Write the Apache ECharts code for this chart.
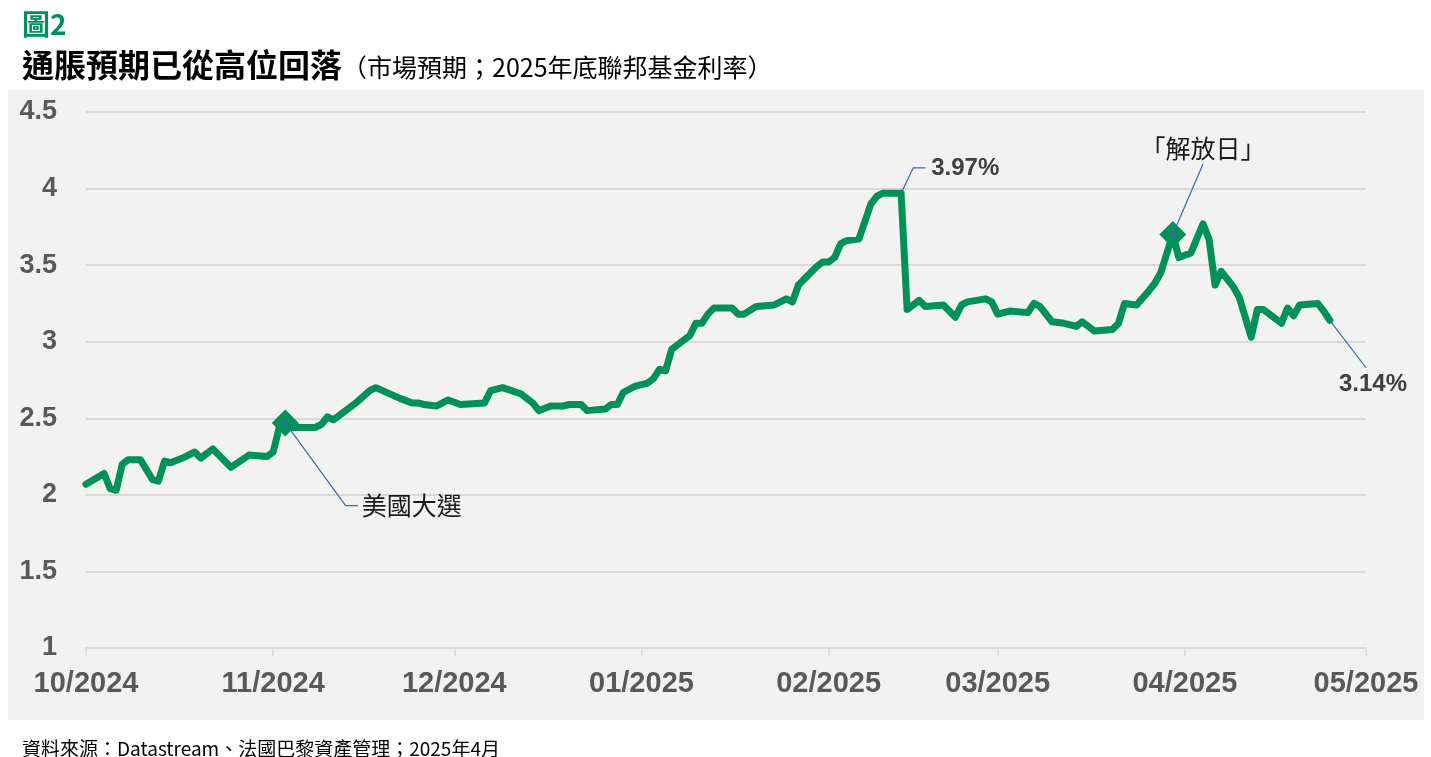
<!DOCTYPE html>
<html lang="zh-Hant">
<head>
<meta charset="utf-8">
<title>圖2</title>
<script src="https://cdn.jsdelivr.net/npm/echarts@6/dist/echarts.min.js"></script>
<style>
    html, body { margin: 0; padding: 0; background: #fff; }
    #wrap { position: relative; width: 1431px; height: 757px; }
    /* grey panel behind the plot */
    #panel { position: absolute; left: 8px; top: 90px; width: 1416px; height: 630px; background: #f2f2f2; }
    #chart { position: absolute; left: 0; top: 0; width: 1431px; height: 757px; }
</style>
</head>
<body>
<div id="wrap">
    <div id="panel"></div>
    <div id="chart"></div>
</div>
<script type="text/javascript">
    // 市場預期：2025年底聯邦基金利率
    var dates = [
        '2024-10-01','2024-10-04','2024-10-05','2024-10-06','2024-10-07','2024-10-08','2024-10-10','2024-10-12','2024-10-13',
        '2024-10-14','2024-10-15','2024-10-17','2024-10-19','2024-10-20','2024-10-22','2024-10-25','2024-10-28','2024-10-31',
        '2024-11-01','2024-11-02','2024-11-03','2024-11-04','2024-11-08','2024-11-09','2024-11-10','2024-11-11','2024-11-15',
        '2024-11-17','2024-11-18','2024-11-22','2024-11-24','2024-11-25','2024-11-26','2024-11-28','2024-11-30',
        '2024-12-02','2024-12-06','2024-12-07','2024-12-09','2024-12-12','2024-12-14','2024-12-15','2024-12-17','2024-12-19',
        '2024-12-20','2024-12-22','2024-12-23','2024-12-26','2024-12-27','2024-12-28','2024-12-29','2024-12-31',
        '2025-01-02','2025-01-03','2025-01-04','2025-01-05','2025-01-06','2025-01-07','2025-01-09','2025-01-10','2025-01-11',
        '2025-01-12','2025-01-13','2025-01-16','2025-01-17','2025-01-18','2025-01-20','2025-01-23','2025-01-25','2025-01-26',
        '2025-01-27','2025-01-30','2025-01-31',
        '2025-02-01','2025-02-02','2025-02-03','2025-02-04','2025-02-06','2025-02-08','2025-02-09','2025-02-10','2025-02-13',
        '2025-02-14','2025-02-16','2025-02-17','2025-02-20','2025-02-22','2025-02-23','2025-02-24','2025-02-27','2025-02-28',
        '2025-03-01','2025-03-03','2025-03-06','2025-03-07','2025-03-08','2025-03-10','2025-03-12','2025-03-14','2025-03-15',
        '2025-03-17','2025-03-20','2025-03-21','2025-03-22','2025-03-24','2025-03-26','2025-03-27','2025-03-28','2025-03-30',
        '2025-03-31',
        '2025-04-02','2025-04-04','2025-04-05','2025-04-06','2025-04-07','2025-04-09','2025-04-10','2025-04-12','2025-04-13',
        '2025-04-14','2025-04-17','2025-04-18','2025-04-19','2025-04-20','2025-04-23','2025-04-24','2025-04-25'
    ];
    var rates = [
        2.07, 2.14, 2.04, 2.03, 2.20, 2.23, 2.23, 2.10, 2.09,
        2.22, 2.21, 2.24, 2.28, 2.24, 2.30, 2.18, 2.26, 2.25,
        2.28, 2.44, 2.47, 2.44, 2.44, 2.46, 2.51, 2.49, 2.61,
        2.68, 2.70, 2.63, 2.60, 2.60, 2.59, 2.58, 2.62,
        2.59, 2.60, 2.68, 2.70, 2.66, 2.60, 2.55, 2.58, 2.58,
        2.59, 2.59, 2.55, 2.56, 2.59, 2.59, 2.67, 2.71,
        2.73, 2.76, 2.82, 2.81, 2.95, 2.98, 3.04, 3.12, 3.12,
        3.18, 3.22, 3.22, 3.18, 3.18, 3.23, 3.24, 3.28, 3.26,
        3.37, 3.49, 3.52,
        3.52, 3.55, 3.64, 3.66, 3.67, 3.90, 3.95, 3.97, 3.97,
        3.21, 3.27, 3.23, 3.24, 3.16, 3.24, 3.26, 3.28, 3.26,
        3.18, 3.20, 3.19, 3.25, 3.23, 3.13, 3.12, 3.10, 3.13,
        3.07, 3.08, 3.12, 3.25, 3.24, 3.33, 3.38, 3.45, 3.70,
        3.55,
        3.58, 3.77, 3.67, 3.37, 3.46, 3.36, 3.29, 3.03, 3.21,
        3.21, 3.12, 3.22, 3.17, 3.24, 3.25, 3.20, 3.14
    ];

    // 事件標記（美國大選、「解放日」）
    var events = [['2024-11-03', 2.47], ['2025-03-30', 3.70]];

    // 註解引線（資料座標）及文字
    var electionLeader = [['2024-11-03', 2.47], ['2024-11-13', 1.93], ['2024-11-15', 1.93]];
    var libDayLeader = [['2025-03-30', 3.70], ['2025-04-04', 4.16]];
    var peakLeader = [['2025-02-13', 3.97], ['2025-02-15', 4.135], ['2025-02-17', 4.135]];
    var lastLeader = [['2025-04-25', 3.14], ['2025-05-01', 2.83]];
    var noteTexts = ['美國大選', '「解放日」', '3.97%', '3.14%'];

    var green = '#00915a';
    var leaderColor = '#41679e';
    var cjk = '"Noto Sans CJK TC", "Noto Sans CJK SC", sans-serif';
    var latin = '"Liberation Sans", Arial, sans-serif';

    var lineData = [];
    for (var i = 0; i < dates.length; i++) {
        lineData.push([dates[i], rates[i]]);
    }

    function leader(points, text, label, dot) {
        var data = [];
        for (var k = 0; k < points.length; k++) {
            var item = { value: points[k] };
            if (k === 0 && dot) {
                item.symbol = 'diamond';
                item.symbolSize = 7;
            }
            if (k === points.length - 1) {
                item.label = Object.assign({ show: true, formatter: text }, label);
            }
            data.push(item);
        }
        return {
            type: 'line',
            data: data,
            symbol: 'circle',
            symbolSize: 0,
            showSymbol: true,
            clip: false,
            silent: true,
            animation: false,
            z: 5,
            lineStyle: { color: leaderColor, width: 1.2 },
            itemStyle: { color: leaderColor }
        };
    }

    var pad2 = function (n) { return n < 10 ? '0' + n : '' + n; };

    var chart = echarts.init(document.getElementById('chart'), null, { renderer: 'canvas' });
    var option = {
        backgroundColor: 'transparent',
        animation: false,
        title: [
            {
                text: '圖2',
                left: 17, top: 5,
                textStyle: { fontSize: 28, fontWeight: 'bold', color: green, fontFamily: cjk }
            },
            {
                text: '{a|通脹預期已從高位回落}{b|（市場預期；2025年底聯邦基金利率）}',
                left: 17, top: 44,
                textStyle: {
                    rich: {
                        a: { fontSize: 32, color: '#000', fontFamily: cjk, fontWeight: 'bold' },
                        b: { fontSize: 25, color: '#000', fontFamily: cjk, fontWeight: 'normal', padding: [4, 0, 0, 0] }
                    }
                }
            },
            {
                text: '資料來源：Datastream、法國巴黎資產管理；2025年4月',
                left: 17, top: 734,
                textStyle: { fontSize: 19, fontWeight: 'normal', color: '#000', fontFamily: cjk }
            }
        ],
        grid: { left: 86, right: 65, top: 112, bottom: 109 },
        xAxis: {
            type: 'time',
            min: '2024-10-01',
            max: '2025-05-01',
            splitNumber: 7,
            minInterval: 28 * 86400000,
            maxInterval: 31 * 86400000,
            axisLine: { show: true, lineStyle: { color: '#d9d9d9', width: 2 } },
            axisTick: { show: true, length: 8, lineStyle: { color: '#d9d9d9', width: 1.5 } },
            splitLine: { show: false },
            axisLabel: {
                showMinLabel: true,
                showMaxLabel: true,
                hideOverlap: false,
                margin: 21,
                fontSize: 29,
                fontWeight: 'bold',
                color: '#595959',
                fontFamily: latin,
                formatter: function (v) {
                    var d = new Date(v);
                    return pad2(d.getMonth() + 1) + '/' + d.getFullYear();
                }
            }
        },
        yAxis: {
            type: 'value',
            min: 1,
            max: 4.5,
            interval: 0.5,
            axisLine: { show: false },
            axisTick: { show: false },
            splitLine: { lineStyle: { color: '#d9d9d9', width: 2 } },
            axisLabel: {
                margin: 29,
                fontSize: 27,
                fontWeight: 'bold',
                color: '#595959',
                fontFamily: latin
            }
        },
        series: [
            {
                name: '2025年底聯邦基金利率',
                type: 'line',
                data: lineData,
                symbol: 'none',
                z: 2,
                lineStyle: { color: green, width: 7, join: 'round', cap: 'round' }
            },
            {
                type: 'scatter',
                data: events,
                symbol: 'diamond',
                symbolSize: 27,
                z: 3,
                silent: true,
                itemStyle: { color: green, opacity: 1 }
            },
            leader(electionLeader, noteTexts[0], {
                position: 'right', distance: 4, fontSize: 25, color: '#1a1a1a', fontFamily: cjk
            }, true),
            leader(libDayLeader, noteTexts[1], {
                position: 'top', distance: 3, fontSize: 25, color: '#1a1a1a', fontFamily: cjk
            }, true),
            leader(peakLeader, noteTexts[2], {
                position: 'right', distance: 6, fontSize: 24, fontWeight: 'bold', color: '#404040', fontFamily: latin
            }, false),
            leader(lastLeader, noteTexts[3], {
                position: 'bottom', distance: 5, offset: [7, 0], fontSize: 24, fontWeight: 'bold', color: '#404040', fontFamily: latin
            }, false)
        ]
    };
    chart.setOption(option);
</script>
</body>
</html>
